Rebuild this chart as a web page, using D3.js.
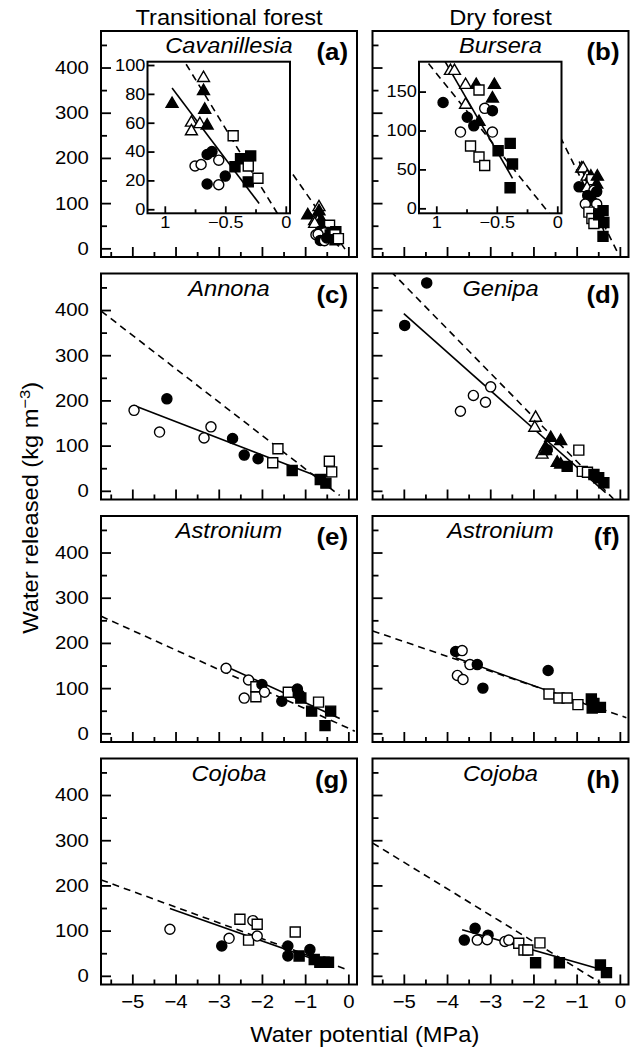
<!DOCTYPE html>
<html>
<head>
<meta charset="utf-8">
<script src="https://cdn.jsdelivr.net/npm/d3@7"></script>
<style>
  body { margin: 0; background: #fff; }
  svg { display: block; }
  text { font-family: "Liberation Sans", Arial, Helvetica, sans-serif; fill: #000; }
</style>
</head>
<body>
<div id="chart"></div>
<script>
// ---- data (x = water potential MPa, y = water released kg m-3, symbol code) ----
// symbol codes: f/o = filled/open, c/s/t = circle/square/triangle
const cavanillesia = [
  [-0.94, 73, "ft"], [-0.68, 91, "ot"], [-0.68, 82, "ft"], [-0.67, 69, "ft"],
  [-0.78, 60, "ot"], [-0.71, 59, "ot"], [-0.65, 58, "ft"], [-0.78, 54, "ot"],
  [-0.435, 51, "os"], [-0.65, 38, "fc"], [-0.61, 40, "fc"], [-0.554, 34, "oc"],
  [-0.75, 30, "oc"], [-0.70, 31, "oc"], [-0.65, 17.5, "fc"], [-0.554, 17, "oc"],
  [-0.50, 23, "fc"], [-0.42, 29.5, "fs"], [-0.374, 35, "fs"], [-0.29, 37, "fs"],
  [-0.31, 30, "os"], [-0.31, 19, "fs"], [-0.23, 21.5, "os"]
];
const bursera = [
  [-0.944, 136, "fc"], [-0.883, 176.5, "ot"], [-0.85, 176.5, "ot"], [-0.758, 158.5, "ot"],
  [-0.67, 158.5, "ft"], [-0.647, 152, "os"], [-0.52, 158.5, "ft"], [-0.536, 141, "ft"],
  [-0.758, 133, "ot"], [-0.60, 128.5, "oc"], [-0.536, 125.5, "fc"], [-0.744, 117, "fc"],
  [-0.69, 106, "fc"], [-0.647, 111, "ft"], [-0.80, 98, "oc"], [-0.536, 98, "oc"],
  [-0.717, 80, "os"], [-0.647, 66, "os"], [-0.60, 55, "os"], [-0.489, 74, "fs"],
  [-0.389, 83.5, "fs"], [-0.37, 57, "fs"], [-0.39, 26.5, "fs"]
];
const annona = [
  [-4.96, 178, "oc"], [-4.20, 203.5, "fc"], [-4.37, 130, "oc"], [-3.34, 117, "oc"],
  [-3.18, 141.6, "oc"], [-2.68, 115.7, "fc"], [-2.41, 79, "fc"], [-2.09, 71, "fc"],
  [-1.75, 62, "os"], [-1.63, 93, "os"], [-1.30, 45, "fs"], [-0.44, 65.5, "os"],
  [-0.385, 42, "os"], [-0.65, 25, "fs"], [-0.52, 17, "fs"]
];
const genipa = [
  [-4.47, 460, "fc"], [-4.98, 366, "fc"], [-3.69, 176, "oc"], [-3.39, 211, "oc"],
  [-3.11, 196, "oc"], [-2.99, 230, "oc"], [-1.95, 161.5, "ot"], [-1.97, 139.4, "ot"],
  [-1.60, 117, "ft"], [-1.37, 110, "ft"], [-1.72, 95, "ft"], [-1.68, 91, "fc"],
  [-0.95, 90, "os"], [-1.80, 80, "ot"], [-1.72, 88, "ft"], [-1.45, 62, "ft"],
  [-1.37, 58, "ft"], [-1.22, 54, "fs"], [-0.87, 43, "os"], [-0.75, 41, "os"],
  [-0.60, 36, "fs"], [-0.49, 29, "fs"], [-0.37, 18, "fs"]
];
const astroniumTrans = [
  [-2.83, 144, "oc"], [-2.31, 118, "oc"], [-2.41, 78, "oc"], [-2.14, 81, "os"],
  [-2.14, 103, "os"], [-2.0, 108, "fc"], [-1.94, 91, "oc"], [-1.54, 71, "fc"],
  [-1.39, 91, "os"], [-1.18, 98, "fc"], [-1.13, 85, "fc"], [-1.10, 78, "fs"],
  [-0.85, 49, "fs"], [-0.69, 69, "os"], [-0.41, 49, "fs"], [-0.54, 17, "fs"]
];
const astroniumDry = [
  [-3.80, 181, "fc"], [-3.65, 183, "oc"], [-3.76, 128, "oc"], [-3.63, 119, "oc"],
  [-3.47, 152, "oc"], [-3.30, 152, "fc"], [-3.17, 100, "fc"], [-1.66, 139, "fc"],
  [-1.64, 87, "os"], [-1.41, 78, "os"], [-1.22, 78, "os"], [-0.97, 63.5, "os"],
  [-0.66, 76, "fs"], [-0.60, 66, "fs"], [-0.64, 56, "fs"], [-0.45, 57.5, "fs"]
];
const cojobaTrans = [
  [-4.13, 103, "oc"], [-2.93, 66, "fc"], [-2.76, 83, "oc"], [-2.51, 125, "os"],
  [-2.31, 79, "os"], [-2.21, 122, "oc"], [-2.11, 114, "os"], [-2.11, 88, "oc"],
  [-1.23, 97, "os"], [-1.40, 66, "fc"], [-1.40, 44, "fc"], [-1.14, 44, "fs"],
  [-0.89, 58, "fc"], [-0.79, 36, "fs"], [-0.66, 30, "fs"], [-0.56, 30, "fs"],
  [-0.46, 30, "fs"]
];
const cojobaDry = [
  [-3.60, 79, "fc"], [-3.35, 105, "fc"], [-3.30, 79, "oc"], [-3.05, 90, "fc"],
  [-3.07, 80, "oc"], [-2.66, 76, "oc"], [-2.57, 79, "oc"], [-2.34, 72, "os"],
  [-2.22, 57, "os"], [-2.13, 57, "os"], [-1.85, 73, "os"], [-1.95, 29, "fs"],
  [-1.40, 29, "fs"], [-0.45, 24, "fs"], [-0.31, 7, "fs"]
];

// fitted (solid) and reference (dashed) lines, end points
const fitA = [[-0.94, 84], [-0.22, 4]];
const refA = [[-1.6, 207], [-0.05, -5.5]];
const fitB = [[-0.94, 192], [-0.37, 38.6]];
const refB = [[-1.5, 270], [-0.05, -9.6]];
const fitC = [[-4.96, 189], [-0.55, 26]];
const refC = [[-5.72, 397.6], [-0.2, -10.3]];
const fitD = [[-5.0, 392], [-0.33, -4]];
const refD = [[-5.3, 485.6], [-0.15, -17.6]];
const fitE = [[-2.83, 148], [-0.2, 32.7]];
const refE = [[-5.72, 258.9], [0.15, 4.8]];
const fitF = [[-3.8, 167], [-0.4, 51]];
const refF = [[-5.72, 226.6], [0.15, 34.7]];
const fitG = [[-4.13, 149], [-0.35, 21.5]];
const refG = [[-5.72, 212.2], [0, 12.6]];
const fitH = [[-3.65, 102], [-0.33, 11]];
const refH = [[-5.72, 293.6], [-0.45, -15.2]];

const species = ["Cavanillesia", "Bursera", "Annona", "Genipa", "Astronium", "Astronium", "Cojoba", "Cojoba"];
const panelTags = ["(a)", "(b)", "(c)", "(d)", "(e)", "(f)", "(g)", "(h)"];
const columnTitles = ["Transitional forest", "Dry forest"];
const xTicks = [-5, -4, -3, -2, -1, 0];
const xMinorTicks = [-5.5, -4.5, -3.5, -2.5, -1.5, -0.5];
const yTicks = [0, 100, 200, 300, 400];
const yMinorTicks = [50, 150, 250, 350, 450];
const insetXTicks = [-1, -0.5, 0];
const insetXLabels = ["1", "\u22120.5", "0"];
const insetXMinorTicks = [-0.75, -0.25];
const insetYTicksA = [0, 20, 40, 60, 80, 100];
const insetYTicksB = [0, 50, 100, 150];

// ---- layout ----
const W = 635, H = 1051;
const pw = 256, ph = 226;
const colX = [101, 372.5];
const rowY = [31, 273.5, 516, 758.5];
const stretch = "scale(1.1,1)";

const svg = d3.select("#chart").append("svg")
    .attr("width", W)
    .attr("height", H);

const x = d3.scaleLinear().domain([-5.725, 0.2]).range([0, pw]);
const y = d3.scaleLinear().domain([-19.2, 480.8]).range([ph, 0]);

// inset scales (panels a and b)
const iw = 142.5, ih = 151.6, idx = 46.5, idy = 30.7;
const xi = d3.scaleLinear().domain([-1.143, 0.035]).range([0, iw]);
const yiA = d3.scaleLinear().domain([-2.8, 102.3]).range([ih, 0]);
const yiB = d3.scaleLinear().domain([-6.4, 188.4]).range([ih, 0]);

const panels = [
  {pts: cavanillesia, fit: fitA, ref: refA, inset: {ys: yiA, ticks: insetYTicksA}},
  {pts: bursera, fit: fitB, ref: refB, inset: {ys: yiB, ticks: insetYTicksB}},
  {pts: annona, fit: fitC, ref: refC},
  {pts: genipa, fit: fitD, ref: refD},
  {pts: astroniumTrans, fit: fitE, ref: refE},
  {pts: astroniumDry, fit: fitF, ref: refF},
  {pts: cojobaTrans, fit: fitG, ref: refG},
  {pts: cojobaDry, fit: fitH, ref: refH}
];

const shapes = {c: d3.symbolCircle, s: d3.symbolSquare, t: d3.symbolTriangle};
const sizes = {c: 80, s: 100, t: 62};

function drawMarks(g, pts, xs, ys) {
    g.selectAll("path.pt")
        .data(pts)
        .join("path")
        .attr("class", "pt")
        .attr("transform", d => "translate(" + xs(d[0]) + "," + ys(d[1]) + ")")
        .attr("d", d => d3.symbol(shapes[d[2][1]], sizes[d[2][1]])())
        .attr("fill", d => d[2][0] === "f" ? "#000" : "#fff")
        .attr("stroke", "#000")
        .attr("stroke-width", 1.4);
}

function drawLines(g, fit, ref, xs, ys) {
    const line = d3.line().x(d => xs(d[0])).y(d => ys(d[1]));
    g.append("path")
        .datum(ref)
        .attr("fill", "none")
        .attr("stroke", "#000")
        .attr("stroke-width", 1.6)
        .attr("stroke-dasharray", "7,5")
        .attr("d", line);
    g.append("path")
        .datum(fit)
        .attr("fill", "none")
        .attr("stroke", "#000")
        .attr("stroke-width", 1.6)
        .attr("d", line);
}

function styleAxis(a, size) {
    a.select(".domain").remove();
    a.selectAll("line").attr("stroke-width", 1.8);
    a.attr("font-family", null).attr("font-size", size);
    a.selectAll("text").attr("transform", stretch);
}

panels.forEach(function(p, i) {
    const col = i % 2, row = Math.floor(i / 2);
    const g = svg.append("g")
        .attr("transform", "translate(" + colX[col] + "," + rowY[row] + ")");

    g.append("clipPath").attr("id", "clip" + i)
        .append("rect").attr("width", pw).attr("height", ph);

    const plot = g.append("g").attr("clip-path", "url(#clip" + i + ")");
    drawLines(plot, p.fit, p.ref, x, y);
    drawMarks(g, p.pts, x, y);

    // Y axis, ticks pointing inward
    const ya = g.append("g")
        .call(d3.axisLeft(y).tickValues(yTicks).tickSize(-10).tickPadding(11)
            .tickFormat(col === 0 ? d3.format("d") : ""));
    styleAxis(ya, 18.5);
    const ym = g.append("g")
        .call(d3.axisLeft(y).tickValues(yMinorTicks).tickSize(-6).tickFormat(""));
    styleAxis(ym, 18.5);

    // X axis
    const xa = g.append("g")
        .attr("transform", "translate(0," + ph + ")")
        .call(d3.axisBottom(x).tickValues(xTicks).tickSize(-10).tickPadding(10)
            .tickFormat(row === 3 ? d3.format("d") : ""));
    styleAxis(xa, 18.5);
    const xm = g.append("g")
        .attr("transform", "translate(0," + ph + ")")
        .call(d3.axisBottom(x).tickValues(xMinorTicks).tickSize(-5).tickFormat(""));
    styleAxis(xm, 18.5);

    g.append("rect")
        .attr("width", pw).attr("height", ph)
        .attr("fill", "none").attr("stroke", "#000").attr("stroke-width", 2);

    // inset for the first row
    if (p.inset) {
        const ig = g.append("g").attr("transform", "translate(" + idx + "," + idy + ")");
        ig.append("rect").attr("width", iw).attr("height", ih).attr("fill", "#fff");
        ig.append("clipPath").attr("id", "iclip" + i)
            .append("rect").attr("width", iw).attr("height", ih);
        const iplot = ig.append("g").attr("clip-path", "url(#iclip" + i + ")");
        drawLines(iplot, p.fit, p.ref, xi, p.inset.ys);
        drawMarks(ig, p.pts, xi, p.inset.ys);

        const iya = ig.append("g")
            .call(d3.axisLeft(p.inset.ys).tickValues(p.inset.ticks).tickSize(-7).tickPadding(2)
                .tickFormat(d3.format("d")));
        styleAxis(iya, 16.5);
        const ixa = ig.append("g")
            .attr("transform", "translate(0," + ih + ")")
            .call(d3.axisBottom(xi).tickValues(insetXTicks).tickSize(-7).tickPadding(3)
                .tickFormat((d, k) => insetXLabels[k]));
        styleAxis(ixa, 16.5);
        const ixm = ig.append("g")
            .attr("transform", "translate(0," + ih + ")")
            .call(d3.axisBottom(xi).tickValues(insetXMinorTicks).tickSize(-4).tickFormat(""));
        styleAxis(ixm, 16.5);

        ig.append("rect")
            .attr("width", iw).attr("height", ih)
            .attr("fill", "none").attr("stroke", "#000").attr("stroke-width", 2);
    }

    // species name and panel tag
    g.append("text")
        .attr("transform", "translate(" + (pw / 2) + ",22) " + stretch)
        .attr("text-anchor", "middle")
        .attr("font-size", 21.5)
        .attr("font-style", "italic")
        .text(species[i]);
    g.append("text")
        .attr("transform", "translate(" + (pw - 9) + ",29) " + stretch)
        .attr("text-anchor", "end")
        .attr("font-size", 23.5)
        .attr("font-weight", "bold")
        .text(panelTags[i]);
});

// column titles
columnTitles.forEach(function(t, k) {
    svg.append("text")
        .attr("transform", "translate(" + (colX[k] + pw / 2) + ",25) " + stretch)
        .attr("text-anchor", "middle")
        .attr("font-size", 21.5)
        .text(t);
});

// axis titles
svg.append("text")
    .attr("transform", "translate(" + ((colX[0] + colX[1] + pw) / 2) + ",1042) " + stretch)
    .attr("text-anchor", "middle")
    .attr("font-size", 21.5)
    .text("Water potential (MPa)");

const ylab = svg.append("text")
    .attr("transform", "translate(38," + ((rowY[0] + rowY[3] + ph) / 2) + ") rotate(-90) " + stretch)
    .attr("text-anchor", "middle")
    .attr("font-size", 21.5);
ylab.append("tspan").text("Water released (kg m");
ylab.append("tspan").attr("font-size", 15).attr("dy", -8).text("\u22123");
ylab.append("tspan").attr("dy", 8).text(")");
</script>
</body>
</html>
